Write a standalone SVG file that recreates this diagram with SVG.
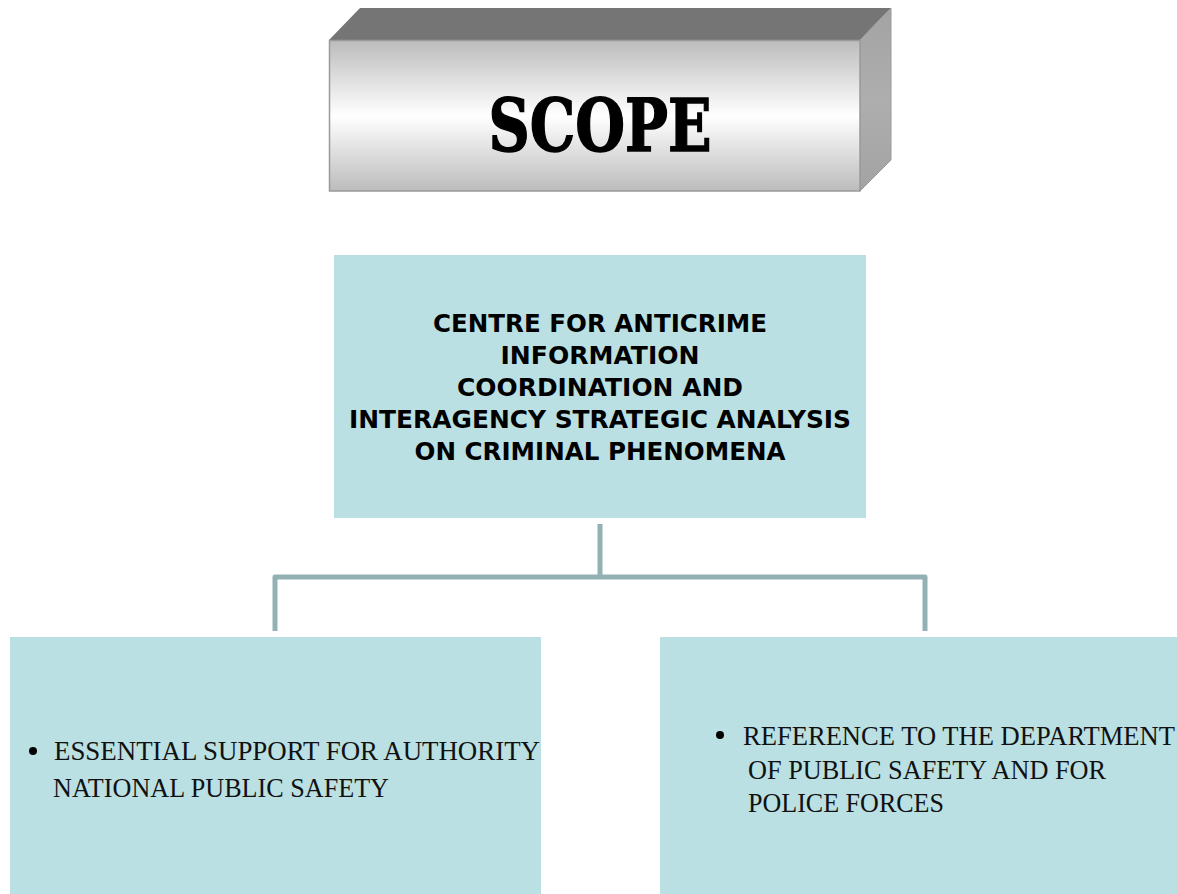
<svg xmlns="http://www.w3.org/2000/svg" width="1177" height="894" viewBox="0 0 1177 894">
<style>
.box{fill:#bae0e3}
.ctr{font-family:"DejaVu Sans",sans-serif;font-weight:bold;font-size:25px;fill:#000;text-anchor:middle}
.ser{font-family:"Liberation Serif",serif;font-size:26.5px;fill:#111}
.conn{fill:none;stroke:#93b1b3;stroke-width:5;stroke-linejoin:round}
</style>
<defs>
<linearGradient id="front" x1="0" y1="0" x2="0" y2="1">
<stop offset="0" stop-color="#bcbcbc"/>
<stop offset="0.5" stop-color="#ffffff"/>
<stop offset="1" stop-color="#bcbcbc"/>
</linearGradient>
<linearGradient id="side" x1="0" y1="0" x2="0" y2="1">
<stop offset="0" stop-color="#a3a3a3"/>
<stop offset="0.5" stop-color="#aeaeae"/>
<stop offset="1" stop-color="#a3a3a3"/>
</linearGradient>
</defs>
<rect width="1177" height="894" fill="#ffffff"/>
<g id="scope">
<polygon points="329,40 360,8 891,8 860,40" fill="#757575"/>
<polygon points="860,40 891,8 891,160 860,191" fill="url(#side)" stroke="#9a9a9a" stroke-width="1"/>
<rect x="329.5" y="40.5" width="530.5" height="150.5" fill="url(#front)" stroke="#9a9a9a" stroke-width="1.5"/>
<text x="600" y="151" font-family="DejaVu Serif" font-weight="bold" font-size="72" textLength="223" lengthAdjust="spacingAndGlyphs" text-anchor="middle" fill="#000" stroke="#000" stroke-width="1.5">SCOPE</text>
</g>
<g id="centre">
<rect class="box" x="334" y="255" width="532" height="263"/>
<text class="ctr"><tspan x="600" y="332" textLength="334" lengthAdjust="spacingAndGlyphs">CENTRE FOR ANTICRIME</tspan><tspan x="600" y="364" textLength="199" lengthAdjust="spacingAndGlyphs">INFORMATION</tspan><tspan x="600" y="396" textLength="286" lengthAdjust="spacingAndGlyphs">COORDINATION AND</tspan><tspan x="600" y="428" textLength="502" lengthAdjust="spacingAndGlyphs">INTERAGENCY STRATEGIC ANALYSIS</tspan><tspan x="600" y="460" textLength="371" lengthAdjust="spacingAndGlyphs">ON CRIMINAL PHENOMENA</tspan></text>
</g>
<g id="connectors">
<path class="conn" d="M600,524 V577"/>
<path class="conn" d="M275,631 V577 H925 V631"/>
</g>
<g id="left">
<rect class="box" x="10" y="637" width="531" height="257"/>
<circle cx="33" cy="751" r="4" fill="#000"/>
<text class="ser" x="54" y="760" textLength="486" lengthAdjust="spacingAndGlyphs">ESSENTIAL SUPPORT FOR AUTHORITY</text>
<text class="ser" x="53" y="797" textLength="336" lengthAdjust="spacingAndGlyphs">NATIONAL PUBLIC SAFETY</text>
</g>
<g id="right">
<rect class="box" x="660" y="637" width="517" height="257"/>
<circle cx="720" cy="735" r="4" fill="#000"/>
<text class="ser" x="743" y="745" textLength="432" lengthAdjust="spacingAndGlyphs">REFERENCE TO THE DEPARTMENT</text>
<text class="ser" x="748" y="779" textLength="358" lengthAdjust="spacingAndGlyphs">OF PUBLIC SAFETY AND FOR</text>
<text class="ser" x="748" y="812" textLength="196" lengthAdjust="spacingAndGlyphs">POLICE FORCES</text>
</g>
</svg>
